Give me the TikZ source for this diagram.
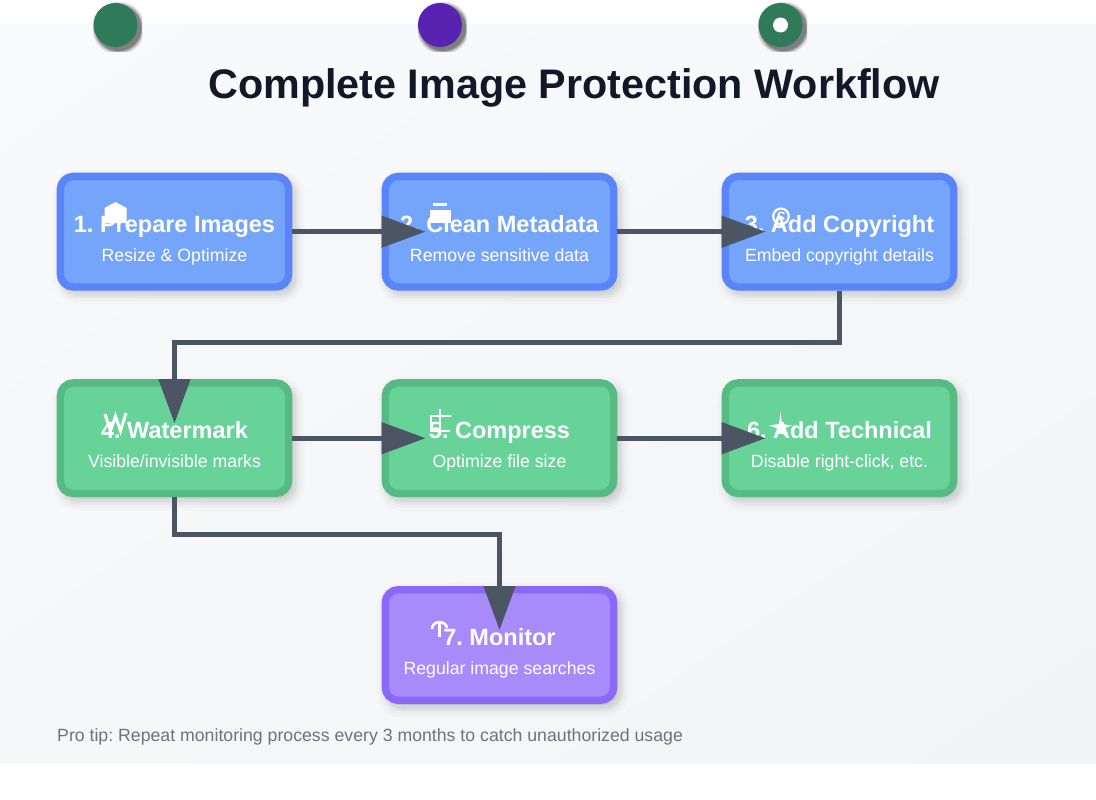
\documentclass[tikz,border=0pt]{standalone}
\usepackage{fontspec}
\setmainfont{Liberation Sans}
\usepackage{xcolor}
\usetikzlibrary{arrows.meta,positioning,shadows,shadings,calc}
\frenchspacing
\definecolor{blueedge}{HTML}{5A85F9}
\definecolor{bluefill}{HTML}{75A5FB}
\definecolor{greenedge}{HTML}{55BB83}
\definecolor{greenfill}{HTML}{67D399}
\definecolor{purpleedge}{HTML}{8B68F8}
\definecolor{purplefill}{HTML}{A78BFA}
\definecolor{dotgreen}{HTML}{2F7A59}
\definecolor{dotpurple}{HTML}{5723B0}
\definecolor{flowline}{HTML}{4B5563}
\definecolor{titleink}{HTML}{111827}
\definecolor{tipink}{HTML}{6B7280}
\definecolor{bgtop}{HTML}{F9FAFB}
\definecolor{bgmid}{HTML}{F6F7F9}
\definecolor{bgbottom}{HTML}{F3F4F6}
\tikzset{
  softshade/.style={
    general shadow={shadow xshift=4pt,shadow yshift=-5pt,draw=black,fill=none,line width=24pt,opacity=.016},
    general shadow={shadow xshift=4pt,shadow yshift=-5pt,draw=black,fill=none,line width=18pt,opacity=.024},
    general shadow={shadow xshift=4pt,shadow yshift=-5pt,draw=black,fill=none,line width=12pt,opacity=.032},
    general shadow={shadow xshift=4pt,shadow yshift=-5pt,draw=black,fill=black,line width=7.4pt,opacity=.05}},
  stepbox/.style={softshade,rectangle,rounded corners=13pt,line width=7.4pt,minimum width=228.4pt,minimum height=110.6pt,inner sep=0pt,outer sep=3.7pt},
  bluebox/.style={stepbox,draw=blueedge,fill=bluefill},
  greenbox/.style={stepbox,draw=greenedge,fill=greenfill},
  purplebox/.style={stepbox,draw=purpleedge,fill=purplefill},
  steptitle/.style={anchor=base,text=white,font=\fontsize{23.5}{28}\bfseries\selectfont,inner sep=0pt},
  stepnote/.style={anchor=base,text=white,font=\fontsize{17.7}{22}\selectfont,inner sep=0pt},
  dot/.style={circle,minimum size=44pt,inner sep=0pt},
  flow/.style={draw=flowline,line width=4.6pt,-{Triangle[length=44pt,width=31pt]},shorten >=-44pt},
  iconline/.style={draw=white,line width=2.6pt,fill=none}
}
\begin{document}
\begin{tikzpicture}[x=1pt,y=-1pt]
  \useasboundingbox (0,0) rectangle (1096,800);
  \shade[shading=bilinear interpolation,upper left=bgtop,upper right=bgmid,lower left=bgmid,lower right=bgbottom] (0,25) rectangle (1096,763);
  % dots at the top, their shadows stop at a square
  \foreach \dx in {115.5,440,780.5}{
    \begin{scope}
      \clip (\dx-22.5,3) rectangle (\dx+26.5,52);
      \foreach \dr/\dop in {27/.05,26/.08,25/.12,24/.16,23/.2}
        \fill[black,opacity=\dop] (\dx+3,28) circle (\dr);
    \end{scope}
  }
  \node[dot,fill=dotgreen] (dotleft) at (115.5,25) {};
  \node[dot,fill=dotpurple] (dotmid) at (440,25) {};
  \node[dot,fill=dotgreen] (dotright) at (780.5,25) {};
  \fill[white] (dotright) circle (7.5);

  \node[anchor=base,text=titleink,font=\fontsize{41.3}{48}\bfseries\selectfont,inner sep=0pt] (heading) at (574,98.5) {Complete Image Protection Workflow};

  % steps
  \node[bluebox] (prepare) at (174.5,231.7) {};
  \node[bluebox] (clean) at (499.5,231.7) {};
  \node[bluebox] (copyright) at (839.5,231.7) {};
  \node[greenbox] (watermark) at (174.5,438.2) {};
  \node[greenbox] (compress) at (499.5,438.2) {};
  \node[greenbox] (technical) at (839.5,438.2) {};
  \node[purplebox] (monitor) at (499.5,645) {};

  \foreach \boxname/\head/\note in {
    prepare/1. Prepare Images/Resize \& Optimize,
    clean/2. Clean Metadata/Remove sensitive data,
    copyright/3. Add Copyright/Embed copyright details,
    watermark/4. Watermark/{Visible/invisible marks},
    compress/5. Compress/Optimize file size,
    technical/6. Add Technical/{Disable right-click, etc.},
    monitor/7. Monitor/Regular image searches}{
    \node[steptitle] (\boxname head) at ($(\boxname)+(0,0.3)$) {\head};
    \node[stepnote] (\boxname note) at ($(\boxname)+(0,29.5)$) {\note};
  }

  % icons
  \fill[white] (104.5,223) -- (104.5,208) -- (115.5,202) -- (126.5,208) -- (126.5,223) -- cycle;
  \fill[white] (430,223) rectangle (450.5,210);
  \fill[white] (432.7,203.3) rectangle (447.3,206);
  \draw[iconline,line width=2.2pt] (781,216.3) circle (7.8);
  \draw[iconline,line width=1.5pt] (784.5,213.8) .. controls (782,211) and (777.5,212.5) .. (778.5,215) .. controls (779.5,217.5) and (784,216.5) .. (784,219.5);
  \draw[iconline,line width=3pt] (105,414) -- (110.5,431) -- (115.5,416) -- (120.5,431) -- (126,413);
  \draw[iconline] (440,409) -- (440,435) (430,416) -- (451,416) (431,416) -- (431,431) -- (450,431);
  \fill[white] (780.5,412) -- (782,424) -- (792,425.5) -- (783.5,428.5) -- (787,438) -- (780.5,431.5) -- (774,438) -- (777.5,428.5) -- (769,425.5) -- (779,424) -- cycle;
  \draw[iconline] (432,629) .. controls (432,620) and (446,620) .. (447,628);
  \draw[iconline] (439.5,623) -- (439.5,637);

  % connectors
  \draw[flow] (prepare.east) -- (clean.west);
  \draw[flow] (clean.east) -- (copyright.west);
  \draw[flow] (copyright.south) -- ++(0,52) -| (watermark.north);
  \draw[flow] (watermark.east) -- (compress.west);
  \draw[flow] (compress.east) -- (technical.west);
  \draw[flow] (watermark.south) -- ++(0,37) -| (monitor.north);

  \node[anchor=base west,text=tipink,font=\fontsize{17.7}{22}\selectfont,inner sep=0pt] (protip) at (57,741) {Pro tip: Repeat monitoring process every 3 months to catch unauthorized usage};
\end{tikzpicture}
\end{document}
